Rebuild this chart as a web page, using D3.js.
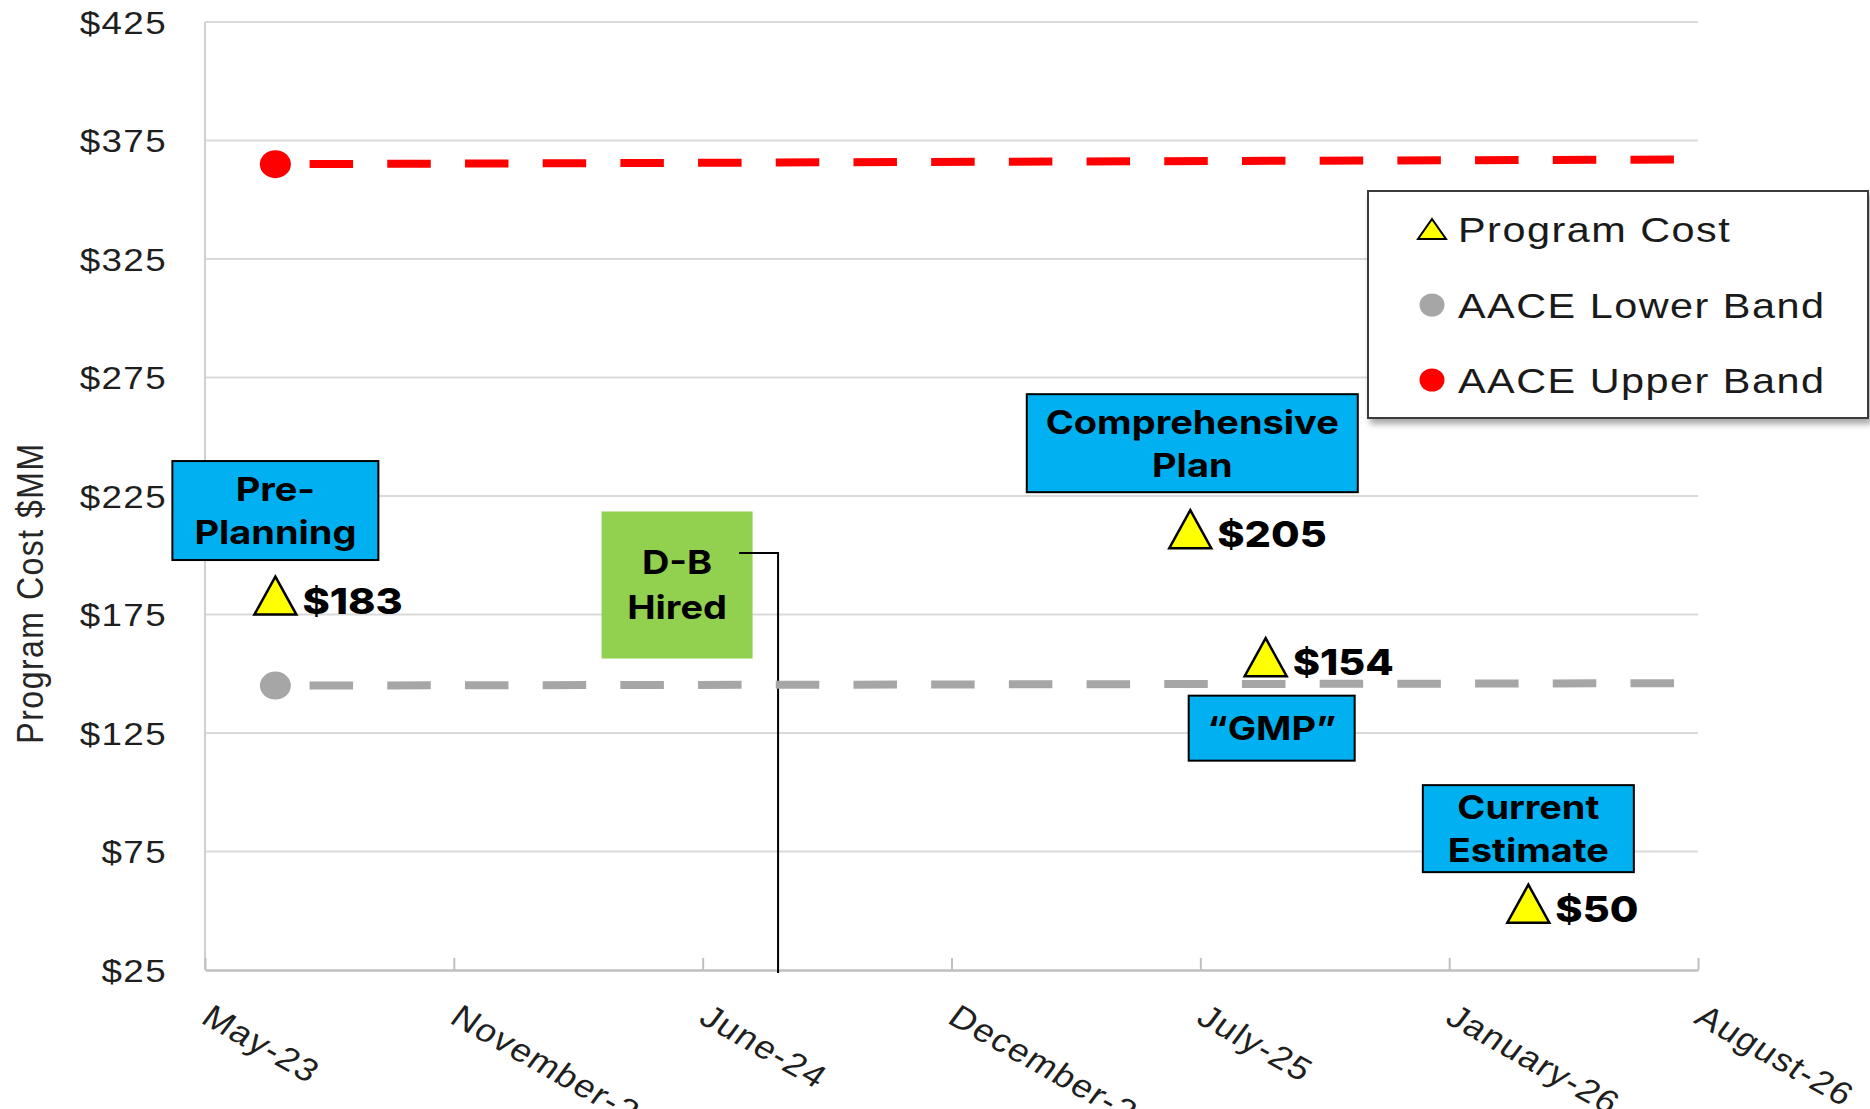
<!DOCTYPE html>
<html lang="en">
<head>
<meta charset="UTF-8">
<title>Program Cost $MM</title>
<script src="https://d3js.org/d3.v7.min.js"></script>
<style>
    html, body { margin: 0; padding: 0; background: #fff; overflow: hidden; }
    svg { display: block; }
    .tick-label { font-family: "Liberation Sans", Arial, sans-serif; font-size: 32px; fill: #1f1f1f; letter-spacing: 1.2px; }
    .axis-title { font-family: "Liberation Sans", Arial, sans-serif; font-size: 32px; fill: #262626; letter-spacing: 1.5px; }
    .callout { font-family: Inter, "Noto Sans", sans-serif; font-weight: 700; font-size: 33px; fill: #000; }
    .cost-label { font-family: Inter, "Noto Sans", sans-serif; font-weight: 800; font-size: 36px; fill: #000; }
    .legend-label { font-family: "Liberation Sans", Arial, sans-serif; font-size: 36px; fill: #1a1a1a; letter-spacing: 1.3px; }
</style>
</head>
<body>
<svg id="chart" width="1870" height="1109"></svg>

<script>
    // ---- data ----
    const yTicks = [25, 75, 125, 175, 225, 275, 325, 375, 425];
    const xTickDates = ["2023-05-15", "2023-11-29", "2024-06-14", "2024-12-29", "2025-07-15", "2026-01-29", "2026-08-15"];
    const xTickLabels = ["May-23", "November-23", "June-24", "December-24", "July-25", "January-26", "August-26"];

    const bandDates = ["2023-07-10", "2026-08-02"];
    const lowerBand = [145, 146];
    const upperBand = [365, 367];

    const costDates = ["2023-07-10", "2025-07-07", "2025-09-05", "2026-04-02"];
    const costValues = [183, 211, 157, 53];
    const costLabels = ["$183", "$205", "$154", "$50"];
    const milestoneNames = [["Pre-", "Planning"], ["Comprehensive", "Plan"], ["\u201CGMP\u201D"], ["Current", "Estimate"]];

    const dbHiredDate = "2024-08-13";
    const dbHiredText = ["D-B", "Hired"];

    const legendLabels = ["Program Cost", "AACE Lower Band", "AACE Upper Band"];

    // ---- layout ----
    const SX = 1.15;   // the picture is a little wider than tall, text included
    const plot = { left: 205, right: 1698, top: 22, bottom: 970 };
    // callout boxes: size and centre offset from their triangle
    const boxLayout = [
        { w: 206, h: 99, dx: 0, dy: -85 },
        { w: 331, h: 98, dx: 2, dy: -86 },
        { w: 166, h: 65, dx: 6, dy: 71 },
        { w: 211, h: 87, dx: 0, dy: -75 }
    ];

    const parse = d3.timeParse("%Y-%m-%d");
    const svg = d3.select("#chart");

    svg.append("defs").append("filter")
        .attr("id", "shadow").attr("x", "-10%").attr("y", "-10%").attr("width", "130%").attr("height", "140%")
        .append("feDropShadow")
        .attr("dx", 3).attr("dy", 5).attr("stdDeviation", 3)
        .attr("flood-color", "#000").attr("flood-opacity", 0.35);

    const x = d3.scaleTime()
        .domain([parse(xTickDates[0]), parse(xTickDates[xTickDates.length - 1])])
        .range([plot.left, plot.right]);
    const y = d3.scaleLinear().domain([25, 425]).range([plot.bottom, plot.top]);

    function stretched(sel, tx, ty, rot) {
        sel.attr("transform", `translate(${tx},${ty}) scale(${SX},1)` + (rot ? ` rotate(${rot})` : ""));
        return sel;
    }

    // gridlines
    svg.append("g").selectAll("line")
        .data(yTicks.slice(1))
        .join("line")
        .attr("x1", plot.left).attr("x2", plot.right)
        .attr("y1", d => y(d)).attr("y2", d => y(d))
        .attr("stroke", "#d9d9d9").attr("stroke-width", 2);

    svg.append("line")
        .attr("x1", plot.left).attr("x2", plot.left)
        .attr("y1", plot.top).attr("y2", plot.bottom)
        .attr("stroke", "#d0d0d0").attr("stroke-width", 2);

    // y tick labels
    svg.append("g").selectAll("text")
        .data(yTicks)
        .join("text")
        .attr("class", "tick-label")
        .attr("text-anchor", "end")
        .attr("dy", "0.36em")
        .each(function (d) { stretched(d3.select(this), plot.left - 38, y(d)); })
        .text(d => "$" + d);

    // x axis
    const xAxis = d3.axisBottom(x)
        .tickValues(xTickDates.map(parse))
        .tickFormat((d, i) => xTickLabels[i])
        .tickSizeInner(-12)
        .tickSizeOuter(0);
    const gx = svg.append("g")
        .attr("transform", `translate(0,${plot.bottom})`)
        .call(xAxis);
    gx.select(".domain").attr("stroke", "#bfbfbf").attr("stroke-width", 2.5);
    gx.selectAll(".tick line").attr("stroke", "#bfbfbf").attr("stroke-width", 2);
    gx.selectAll(".tick text")
        .attr("class", "tick-label")
        .attr("x", null).attr("y", null).attr("dy", null)
        .attr("text-anchor", "start")
        .attr("transform", `translate(-6,52) scale(${SX},1) rotate(33)`);

    // axis title
    stretched(svg.append("text"), 43, 593, -90)
        .attr("class", "axis-title")
        .attr("text-anchor", "middle")
        .text("Program Cost $MM");

    // D-B hired marker line
    const dbX = x(parse(dbHiredDate));
    const dbBox = { w: 151, h: 147, cx: dbX - 101, cy: 585 };
    svg.append("rect")
        .attr("x", dbBox.cx - dbBox.w / 2).attr("y", dbBox.cy - dbBox.h / 2)
        .attr("width", dbBox.w).attr("height", dbBox.h)
        .attr("fill", "#92d050");
    svg.append("path")
        .attr("d", `M${dbX - 39},553 H${dbX} V${plot.bottom + 3}`)
        .attr("fill", "none").attr("stroke", "#000").attr("stroke-width", 2);
    dbHiredText.forEach((t, i) => {
        stretched(svg.append("text"), dbBox.cx, dbBox.cy + (i - (dbHiredText.length - 1) / 2) * 45)
            .attr("class", "callout")
            .attr("text-anchor", "middle")
            .attr("dy", "0.36em")
            .text(t);
    });

    // band lines
    const bandLine = d3.line().x((d, i) => x(parse(bandDates[i]))).y(d => y(d));
    const bands = [
        { values: lowerBand, color: "#a6a6a6" },
        { values: upperBand, color: "#ff0000" }
    ];
    bands.forEach(b => {
        svg.append("path")
            .attr("d", bandLine(b.values))
            .attr("fill", "none")
            .attr("stroke", b.color)
            .attr("stroke-width", 8)
            .attr("stroke-dasharray", "43.5 34.2")
            .attr("stroke-dashoffset", 43.5);
        svg.append("ellipse")
            .attr("cx", x(parse(bandDates[0]))).attr("cy", y(b.values[0]))
            .attr("rx", 15.5).attr("ry", 14)
            .attr("fill", b.color);
    });

    // milestone callouts
    const costs = costValues.map((v, i) => ({
        cx: x(parse(costDates[i])), cy: y(v), label: costLabels[i], name: milestoneNames[i], box: boxLayout[i]
    }));

    costs.forEach(c => {
        const bx = c.cx + c.box.dx, by = c.cy + c.box.dy;
        svg.append("rect")
            .attr("x", bx - c.box.w / 2).attr("y", by - c.box.h / 2)
            .attr("width", c.box.w).attr("height", c.box.h)
            .attr("fill", "#00b0f0").attr("stroke", "#000").attr("stroke-width", 2);
        c.name.forEach((t, i) => {
            stretched(svg.append("text"), bx, by + (i - (c.name.length - 1) / 2) * 43)
                .attr("class", "callout")
                .attr("text-anchor", "middle")
                .attr("dy", "0.36em")
                .text(t);
        });
    });

    const tri = "M0,-19L21,19L-21,19Z";
    svg.append("g").selectAll("path")
        .data(costs)
        .join("path")
        .attr("d", tri)
        .attr("transform", d => `translate(${d.cx},${d.cy})`)
        .attr("fill", "#ffff00").attr("stroke", "#000").attr("stroke-width", 2.5)
        .attr("stroke-linejoin", "miter");

    costs.forEach(c => {
        stretched(svg.append("text"), c.cx + 27, c.cy + 18)
            .attr("class", "cost-label")
            .text(c.label);
    });

    // legend
    const legend = svg.append("g");
    legend.append("rect")
        .attr("x", 1368).attr("y", 191).attr("width", 500).attr("height", 227)
        .attr("fill", "#fff").attr("stroke", "#3a3a3a").attr("stroke-width", 2)
        .attr("filter", "url(#shadow)");
    const legendY = [229, 305, 380];
    legend.append("path")
        .attr("d", "M0,-10L14,10L-14,10Z")
        .attr("transform", `translate(1432,${legendY[0]})`)
        .attr("fill", "#ffff00").attr("stroke", "#000").attr("stroke-width", 2);
    legend.append("ellipse").attr("cx", 1432).attr("cy", legendY[1]).attr("rx", 12.5).attr("ry", 11.5).attr("fill", "#a6a6a6");
    legend.append("ellipse").attr("cx", 1432).attr("cy", legendY[2]).attr("rx", 12.5).attr("ry", 11.5).attr("fill", "#ff0000");
    legendLabels.forEach((t, i) => {
        stretched(legend.append("text"), 1458, legendY[i])
            .attr("class", "legend-label")
            .attr("dy", "0.35em")
            .text(t);
    });
</script>
</body>
</html>
